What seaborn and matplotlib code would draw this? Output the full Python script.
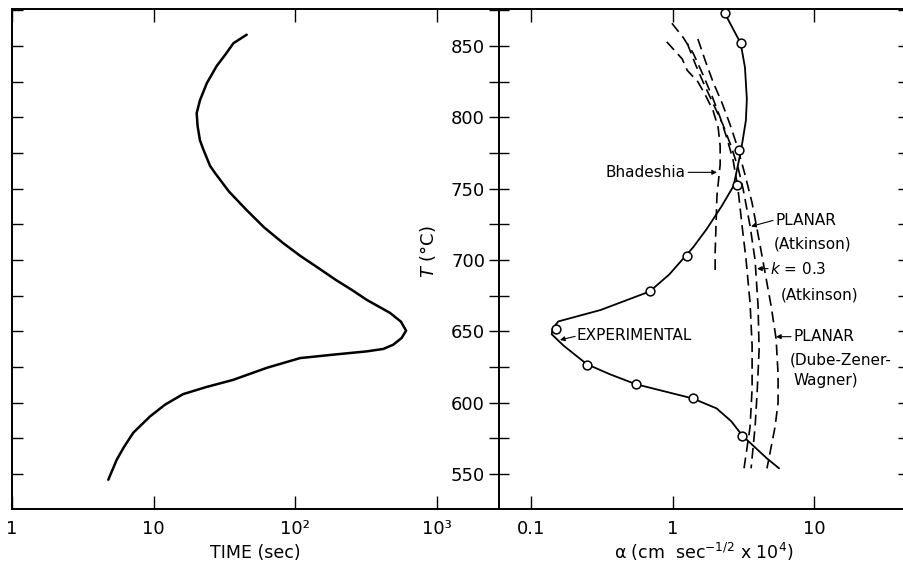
import matplotlib
matplotlib.use("Agg")
import matplotlib.pyplot as plt
import seaborn as sns
from matplotlib.ticker import FixedLocator, MultipleLocator, NullLocator

# ---- left panel: temperature vs. time ----
time_T = [858, 852, 844, 836, 824, 812, 803, 794, 784, 778, 766, 761, 748, 735,
          723, 712, 703, 694.6, 686, 679, 672, 663, 656.8, 650.5, 645.4, 640.7,
          637.7, 636, 633.7, 631.3, 624.5, 616, 611, 606, 598.6, 590.4, 579, 569,
          560, 546]
time_sec = [45.3, 36.5, 32, 27.8, 23.7, 21.2, 20.1, 20.4, 21.2, 22.3, 25.0, 27.1,
            34.0, 45.3, 60, 81.7, 108, 144.5, 193.5, 251, 320, 465, 556, 604, 562,
            491, 417, 319, 185, 108, 63, 36.3, 23.5, 16.1, 12.0, 9.42, 7.18, 6.17,
            5.48, 4.78]

# ---- right panel: growth constant alpha vs. temperature ----
# experimental curve and measured points
exp_T = [873, 852, 835, 813, 798, 777, 752, 738, 722, 709, 690, 678, 665, 657,
         652, 648, 640, 627, 620, 613, 603, 596, 587, 577, 561, 554]
exp_a = [2.34, 3.03, 3.25, 3.35, 3.3, 3.05, 2.7, 2.23, 1.75, 1.40, 0.95, 0.69,
         0.31, 0.156, 0.142, 0.14, 0.17, 0.248, 0.36, 0.55, 1.39, 2.05, 2.6,
         3.11, 4.64, 5.66]
pts_T = [873, 852, 777, 752.5, 703, 678, 651.7, 626.7, 613, 603.3, 577]
pts_a = [2.34, 3.03, 2.95, 2.84, 1.27, 0.69, 0.150, 0.248, 0.55, 1.39, 3.11]

# calculated curves (dashed)
bhad_T = [853, 841, 833, 825, 816, 805, 793, 780, 767, 745, 725, 705, 693]
bhad_a = [0.91, 1.17, 1.27, 1.51, 1.70, 1.93, 2.10, 2.17, 2.17, 2.06, 2.03, 2.0, 2.0]

planar_atk_T = [866, 856, 845, 830, 815, 800, 785, 770, 750, 724, 700, 670, 640,
                610, 583, 554]
planar_atk_a = [0.99, 1.19, 1.40, 1.64, 1.90, 2.17, 2.43, 2.68, 2.90, 3.10,
                3.31, 3.53, 3.65, 3.65, 3.53, 3.20]

k03_T = [852, 838, 825, 810, 795, 780, 765, 750, 724, 700, 668, 637, 607, 583, 554]
k03_a = [1.27, 1.44, 1.64, 1.93, 2.27, 2.59, 2.90, 3.15, 3.53, 3.83, 4.02, 4.09,
         3.96, 3.83, 3.59]

dzw_T = [855, 840, 825, 810, 795, 780, 760, 740, 714, 691, 668, 645, 620, 600,
         583, 554]
dzw_a = [1.51, 1.70, 1.93, 2.24, 2.55, 2.86, 3.25, 3.65, 4.09, 4.51, 4.97, 5.39,
         5.57, 5.57, 5.30, 4.65]

# axis ticks
time_ticks = [1, 10, 100, 1000]
time_ticklabels = ["1", "10", "10²", "10³"]
alpha_ticks = [0.1, 1, 10]
alpha_ticklabels = ["0.1", "1", "10"]
temp_ticks = [550, 600, 650, 700, 750, 800, 850]

DASH = (0, (6.5, 3.5))


def draw_time_panel(ax):
    """Left panel: the C-shaped time curve on a log time axis"""
    ax.set_xscale("log")
    sns.lineplot(x=time_sec, y=time_T, sort=False, estimator=None,
                 color="black", linewidth=1.8, ax=ax)
    ax.set_xlim(1, 2735)
    ax.set_ylim(525.5, 876)

    ax.xaxis.set_major_locator(FixedLocator(time_ticks))
    ax.xaxis.set_minor_locator(NullLocator())
    ax.set_xticklabels(time_ticklabels)
    ax.yaxis.set_major_locator(MultipleLocator(25))

    ax.tick_params(axis="x", direction="in", length=9.5, width=1,
                   top=True, bottom=True, labelsize=13, pad=8)
    ax.tick_params(axis="y", direction="in", length=8, width=1,
                   left=True, right=False, labelleft=False)
    ax.set_xlabel("TIME (sec)", fontsize=12.5, labelpad=4)
    ax.set_ylabel("")


def draw_alpha_panel(ax):
    """Right panel: experimental alpha with circles plus calculated dashed curves"""
    ax.set_xscale("log")
    sns.lineplot(x=exp_a, y=exp_T, sort=False, estimator=None,
                 color="black", linewidth=1.3, ax=ax)
    for xs, ys in [(bhad_a, bhad_T), (planar_atk_a, planar_atk_T),
                   (k03_a, k03_T), (dzw_a, dzw_T)]:
        sns.lineplot(x=xs, y=ys, sort=False, estimator=None, color="black",
                     linewidth=1.2, linestyle=DASH, ax=ax)
    sns.scatterplot(x=pts_a, y=pts_T, marker="o", s=40, facecolor="white",
                    edgecolor="black", linewidth=1.1, zorder=5, ax=ax)

    ax.set_xlim(0.0594, 46.1)
    ax.set_ylim(525.5, 876)
    ax.xaxis.set_major_locator(FixedLocator(alpha_ticks))
    ax.xaxis.set_minor_locator(NullLocator())
    ax.set_xticklabels(alpha_ticklabels)
    ax.yaxis.set_major_locator(FixedLocator(temp_ticks))
    ax.yaxis.set_minor_locator(MultipleLocator(25))

    ax.tick_params(axis="x", direction="in", length=9.5, width=1,
                   top=True, bottom=True, labelsize=13, pad=8)
    ax.tick_params(axis="y", which="both", direction="inout", length=14,
                   width=1, left=True, right=True, labelsize=13, pad=3)
    ax.set_xlabel(r"α (cm  sec$^{-1/2}$ x 10$^4$)", fontsize=12.5, labelpad=2)
    ax.set_ylabel(r"$T$ (°C)", fontsize=13)
    ax.yaxis.set_label_coords(-0.15, 0.515)

    # labels with pointer arrows
    arrow = dict(arrowstyle="-|>", color="black", lw=0.8,
                 mutation_scale=7, shrinkA=0, shrinkB=0)
    txt = dict(fontsize=11, va="center", color="black")

    ax.text(1.23, 761.5, "Bhadeshia", ha="right", **txt)
    ax.annotate("", xy=(2.06, 761.5), xytext=(1.29, 761.5), arrowprops=arrow)

    ax.text(5.30, 727.8, "PLANAR", ha="left", **txt)
    ax.text(5.20, 711, "(Atkinson)", ha="left", **txt)
    ax.annotate("", xy=(3.59, 723.6), xytext=(5.13, 727.8), arrowprops=arrow)

    ax.text(4.89, 694, r"$k$ = 0.3", ha="left", **txt)
    ax.text(5.85, 675.5, "(Atkinson)", ha="left", **txt)
    ax.annotate("", xy=(3.96, 694), xytext=(4.73, 694), arrowprops=arrow)

    ax.text(7.11, 646.3, "PLANAR", ha="left", **txt)
    ax.text(6.77, 630.2, "(Dube-Zener-", ha="left", **txt)
    ax.text(7.11, 615.4, "Wagner)", ha="left", **txt)
    ax.annotate("", xy=(5.39, 646.3), xytext=(6.88, 646.3), arrowprops=arrow)

    ax.text(0.211, 647, "EXPERIMENTAL", ha="left", **txt)
    ax.annotate("", xy=(0.160, 644), xytext=(0.205, 646.5), arrowprops=arrow)


def main():
    sns.set_theme(style="ticks")
    plt.rcParams["font.family"] = ["DejaVu Sans"]
    plt.rcParams["axes.linewidth"] = 1.4
    plt.rcParams["axes.edgecolor"] = "black"
    plt.rcParams["axes.labelcolor"] = "black"
    plt.rcParams["text.color"] = "black"
    plt.rcParams["xtick.color"] = "black"
    plt.rcParams["ytick.color"] = "black"

    fig = plt.figure(figsize=(9.04, 5.67), dpi=100)
    ax1 = fig.add_axes([0.0133, 0.1023, 0.5387, 0.8818])
    ax2 = fig.add_axes([0.552, 0.1023, 0.4524, 0.8818])

    draw_time_panel(ax1)
    draw_alpha_panel(ax2)

    fig.savefig("out.png", dpi=100, facecolor="white")


if __name__ == "__main__":
    main()
